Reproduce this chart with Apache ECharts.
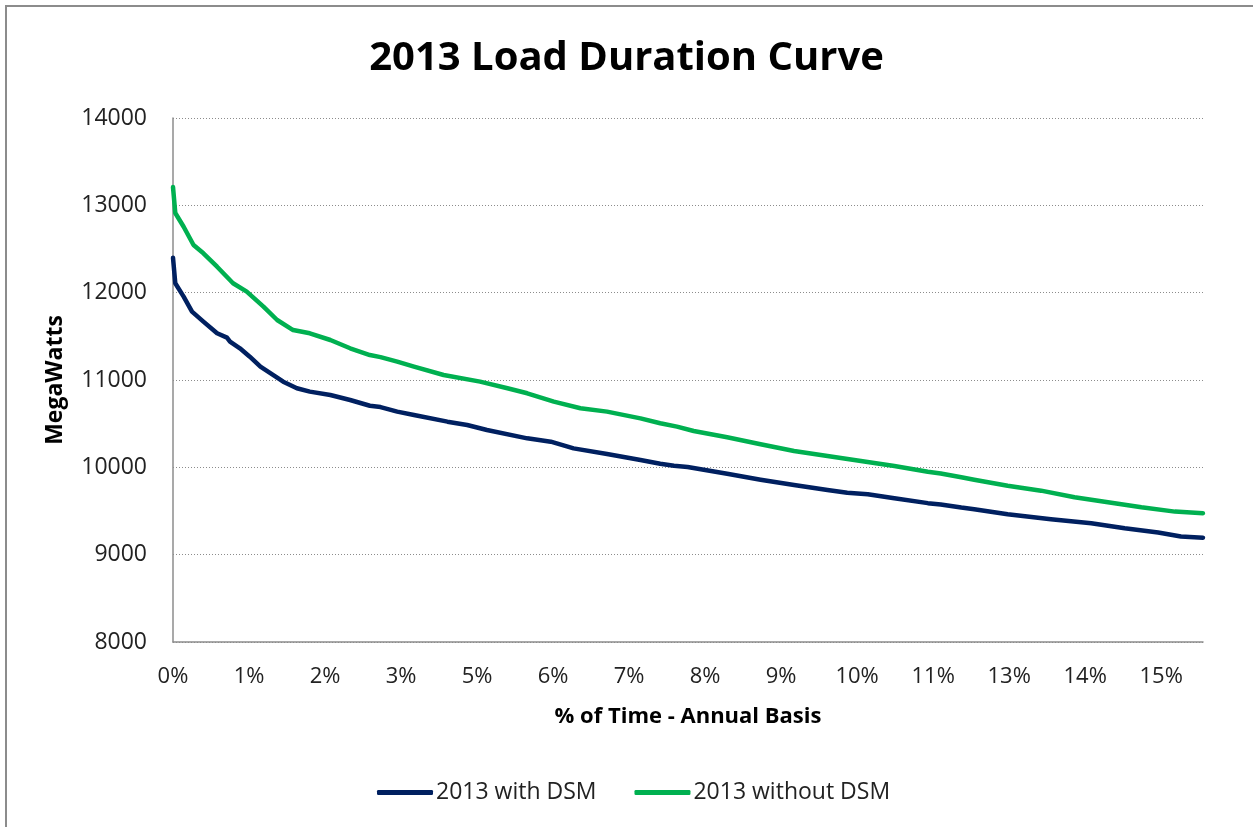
<!DOCTYPE html>
<html>
<head>
<meta charset="utf-8">
<script src="https://cdn.jsdelivr.net/npm/echarts@6/dist/echarts.min.js"></script>
<style>
  html, body { margin: 0; padding: 0; background: #fff; }
  #frame { position: absolute; left: 5px; top: 5px; width: 1260px; height: 840px; border: 2px solid #8c8c8c; box-sizing: border-box; }
  #chart { position: absolute; left: 0; top: 0; width: 1253px; height: 827px; }
</style>
</head>
<body>
<div id="frame"></div>
<div id="chart"></div>
<script>
// Hours of the year (sorted load duration)
const hoursWithout = [0, 3, 14, 27, 40, 58, 79, 97, 119, 137, 158, 180, 207, 233, 259, 273, 295, 317, 356, 404, 440, 466, 501, 536, 571, 615, 641, 663, 685, 729, 773, 817, 861, 905, 949, 993, 1010, 1037, 1054, 1098, 1142, 1186, 1230, 1274, 1318, 1355];
const mwWithout = [13210, 12912, 12755, 12546, 12451, 12297, 12108, 12012, 11840, 11687, 11572, 11535, 11458, 11363, 11286, 11262, 11210, 11153, 11057, 10981, 10906, 10848, 10752, 10676, 10638, 10561, 10505, 10466, 10416, 10344, 10264, 10187, 10130, 10073, 10015, 9950, 9930, 9886, 9858, 9790, 9733, 9657, 9600, 9542, 9493, 9475];

const hoursWith = [0, 3, 14, 25, 40, 58, 71, 75, 88, 101, 115, 132, 145, 163, 180, 207, 233, 259, 273, 295, 317, 361, 387, 413, 466, 497, 527, 571, 615, 641, 659, 677, 729, 773, 817, 861, 887, 914, 949, 993, 1010, 1037, 1054, 1098, 1155, 1208, 1252, 1296, 1326, 1355];
const mwWith = [12400, 12107, 11955, 11783, 11668, 11535, 11485, 11440, 11363, 11267, 11153, 11057, 10981, 10906, 10867, 10828, 10771, 10705, 10690, 10638, 10599, 10523, 10485, 10427, 10332, 10294, 10217, 10153, 10084, 10042, 10019, 10004, 9927, 9858, 9797, 9740, 9709, 9691, 9645, 9590, 9575, 9539, 9520, 9462, 9405, 9360, 9302, 9253, 9207, 9195];

const HOURS_PER_YEAR = 8760;
const seriesNames = ['2013 with DSM', '2013 without DSM'];

const chart = echarts.init(document.getElementById('chart'), null, { renderer: 'canvas' });
const pair = (xs, ys) => xs.map((x, i) => [x, ys[i]]);
const font = '"Open Sans", sans-serif';

chart.setOption({
  backgroundColor: 'transparent',
  animation: false,
  title: {
    text: '2013 Load Duration Curve',
    left: 'center',
    top: 34,
    textStyle: { fontFamily: font, fontWeight: 'bold', fontSize: 40, color: '#000' }
  },
  legend: {
    left: 372,
    top: 776,
    icon: 'roundRect',
    itemWidth: 56,
    itemHeight: 5,
    itemGap: 38,
    textStyle: { fontFamily: font, fontSize: 23, color: '#222', padding: [0, 0, 0, -2] },
    data: seriesNames
  },
  grid: { left: 173, top: 118, right: 50, bottom: 185, containLabel: false },
  xAxis: {
    type: 'value',
    min: 0,
    max: 1355,
    interval: 100,
    name: '% of Time - Annual Basis',
    nameLocation: 'middle',
    nameGap: 64,
    nameTextStyle: { fontFamily: font, fontWeight: 'bold', fontSize: 22, color: '#000' },
    axisLine: { show: true, lineStyle: { color: '#8c8c8c', width: 1.5 } },
    axisTick: { show: false },
    splitLine: { show: false },
    axisLabel: {
      margin: 24,
      showMaxLabel: false,
      fontFamily: font, fontSize: 22, color: '#222',
      formatter: v => Math.round(v / HOURS_PER_YEAR * 100) + '%'
    }
  },
  yAxis: {
    type: 'value',
    min: 8000,
    max: 14000,
    interval: 1000,
    name: 'MegaWatts',
    nameLocation: 'middle',
    nameGap: 106,
    nameTextStyle: { fontFamily: font, fontWeight: 'bold', fontSize: 23, color: '#000' },
    axisLine: { show: true, lineStyle: { color: '#8c8c8c', width: 1.5 } },
    axisTick: { show: false },
    splitLine: { show: true, lineStyle: { color: '#8c8c8c', type: [1, 2], width: 1 } },
    axisLabel: { margin: 26, fontFamily: font, fontSize: 23, color: '#222', formatter: v => String(v) }
  },
  series: [
    {
      name: seriesNames[0], type: 'line', showSymbol: false, symbol: 'none',
      data: pair(hoursWith, mwWith),
      lineStyle: { color: '#002060', width: 4.5, cap: 'round', join: 'round' },
      itemStyle: { color: '#002060' }
    },
    {
      name: seriesNames[1], type: 'line', showSymbol: false, symbol: 'none',
      data: pair(hoursWithout, mwWithout),
      lineStyle: { color: '#00b050', width: 4.5, cap: 'round', join: 'round' },
      itemStyle: { color: '#00b050' }
    }
  ]
});
</script>
</body>
</html>
